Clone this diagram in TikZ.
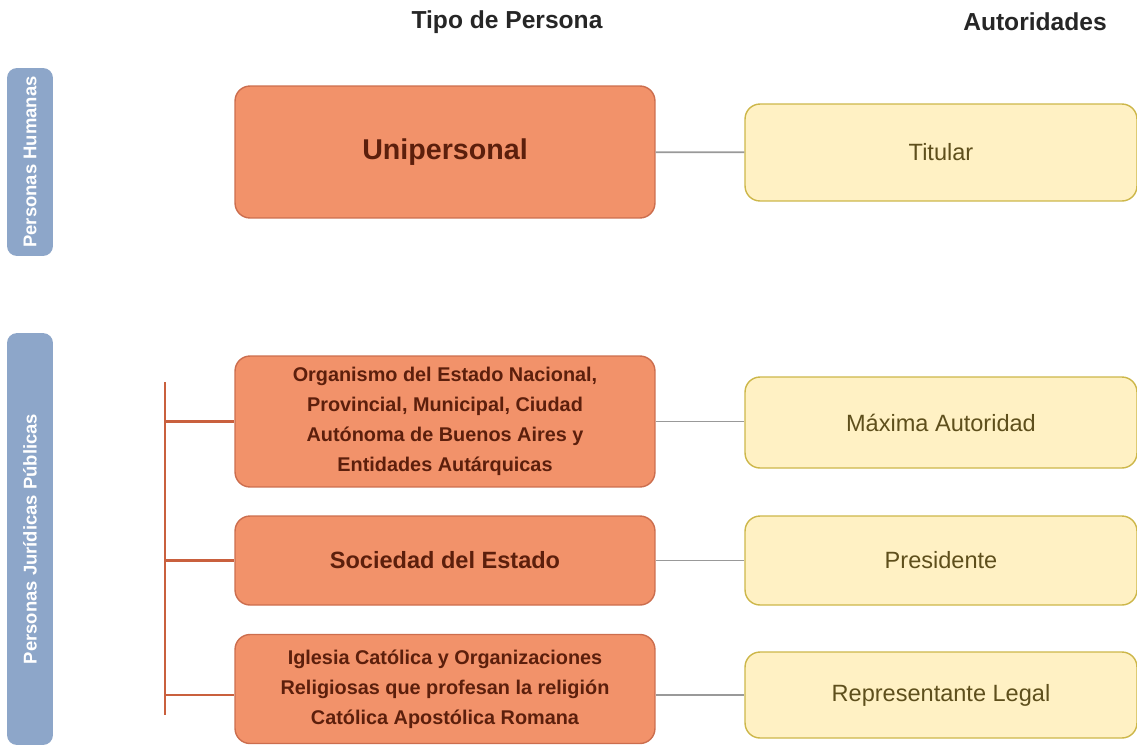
\documentclass[tikz,border=0pt]{standalone}
\usepackage{fontspec}
\setmainfont{Liberation Sans}
\definecolor{tipofill}{HTML}{F2926A}
\definecolor{tipoline}{HTML}{CC6E4E}
\definecolor{tipotext}{HTML}{5C1F0C}
\definecolor{autfill}{HTML}{FFF1C4}
\definecolor{autline}{HTML}{CDB74A}
\definecolor{auttext}{HTML}{5E4F1C}
\definecolor{sidefill}{HTML}{8DA6C9}
\definecolor{bracket}{HTML}{C9603E}
\begin{document}
\begin{tikzpicture}[x=0.02cm,y=-0.02cm,
    tipo/.style={draw=tipoline,fill=tipofill,line width=0.8pt,rounded corners=0.3cm,
      minimum width=8.4cm,align=center,text=tipotext,font=\bfseries\fontsize{11.3}{17}\selectfont},
    aut/.style={draw=autline,fill=autfill,line width=0.8pt,rounded corners=0.3cm,
      minimum width=7.84cm,text=auttext,font=\fontsize{13.4}{15}\selectfont},
    side/.style={fill=sidefill,rounded corners=0.2cm,rotate=90,minimum height=0.92cm,
      text=white,font=\bfseries\fontsize{10.5}{12}\selectfont},
    header/.style={font=\bfseries\fontsize{14}{16}\selectfont,text=black!85}]
  \useasboundingbox (0,0) rectangle (1137,745);
  \draw
    (507,22) node[header] (hTipo){Tipo de Persona}
    (1035,22) node[header] (hAut){Autoridades}
    (30,162) node[side,minimum width=3.76cm] (sHum){Personas Humanas}
    (30,539) node[side,minimum width=8.24cm] (sJur){Personas Jurídicas Públicas}
    (445,152) node[tipo,minimum height=2.64cm,font=\bfseries\fontsize{16.3}{19}\selectfont] (uni){Unipersonal}
    (445,421.5) node[tipo,minimum height=2.62cm] (org){Organismo del Estado Nacional,\\Provincial, Municipal, Ciudad\\Autónoma de Buenos Aires y\\Entidades Autárquicas}
    (445,560.5) node[tipo,minimum height=1.78cm,font=\bfseries\fontsize{13.4}{16}\selectfont] (soc){Sociedad del Estado}
    (445,689) node[tipo,minimum height=2.18cm] (igl){Iglesia Católica y Organizaciones\\Religiosas que profesan la religión\\Católica Apostólica Romana}
    (941,152.5) node[aut,minimum height=1.94cm] (tit){Titular}
    (941,422.5) node[aut,minimum height=1.82cm] (max){Máxima Autoridad}
    (941,560.5) node[aut,minimum height=1.78cm] (pre){Presidente}
    (941,695) node[aut,minimum height=1.72cm] (rep){Representante Legal};
  \coordinate (bTop) at (165,382);
  \coordinate (bBot) at (165,715);
  \begin{scope}[-,draw=gray!80,line width=1pt]
    \draw (uni) -- (tit);
    \draw (org.east) -- (org.east -| max.west);
    \draw (soc) -- (pre);
    \draw (igl.east |- rep.west) -- (rep.west);
  \end{scope}
  \begin{scope}[-,draw=bracket,line width=1.2pt]
    \draw (bTop) -- (bBot);
    \draw (bTop |- org.west) -- (org.west);
    \draw (bTop |- soc.west) -- (soc.west);
    \draw (bTop |- rep.west) -- (igl.west |- rep.west);
  \end{scope}
\end{tikzpicture}
\end{document}
